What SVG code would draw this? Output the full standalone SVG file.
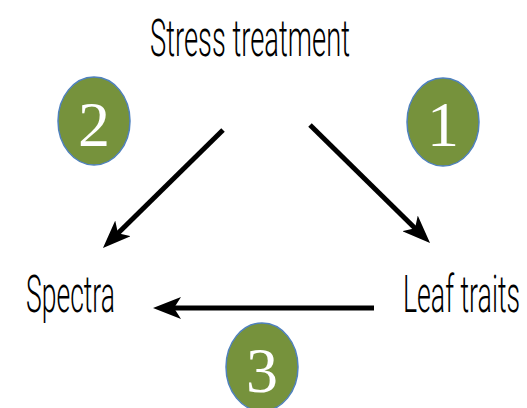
<svg xmlns="http://www.w3.org/2000/svg" width="527" height="408" viewBox="0 0 527 408">
<style>
.lbl{font-family:Roboto,"Liberation Sans",Arial,sans-serif;font-weight:300;font-size:52px;fill:#000;}
.badge ellipse{fill:#76923C;stroke:#4F81BD;stroke-width:1.5;}
.badge text{font-family:"Liberation Serif","Times New Roman",serif;font-size:64px;fill:#fff;text-anchor:middle;}
.conn line{stroke:#000;stroke-width:5;fill:none;}
</style>
<defs>
<marker id="ah" markerUnits="userSpaceOnUse" markerWidth="30" markerHeight="22" viewBox="0 0 30 22" refX="18" refY="11" orient="auto">
<path d="M0,0 L28,11 L0,22 L7,11 Z" fill="#000"/>
</marker>
</defs>
<rect width="527" height="408" fill="#fff"/>
<g id="stress"><text class="lbl" x="150" y="56" textLength="200" lengthAdjust="spacingAndGlyphs">Stress treatment</text></g>
<g id="spectra"><text class="lbl" x="26" y="312" textLength="89" lengthAdjust="spacingAndGlyphs">Spectra</text></g>
<g id="leaf"><text class="lbl" x="403" y="312" textLength="117" lengthAdjust="spacingAndGlyphs">Leaf traits</text></g>
<g id="badge1" class="badge"><ellipse cx="443" cy="122" rx="36" ry="44"/><text x="443" y="146">1</text></g>
<g id="badge2" class="badge"><ellipse cx="94" cy="121" rx="36" ry="44"/><text x="94" y="146">2</text></g>
<g id="badge3" class="badge"><ellipse cx="262" cy="367" rx="36" ry="44"/><text x="262" y="392">3</text></g>
<g id="connectors" class="conn">
<line x1="223" y1="130" x2="110.1" y2="241" marker-end="url(#ah)"/>
<line x1="310" y1="125" x2="422.9" y2="236" marker-end="url(#ah)"/>
<line x1="374" y1="308" x2="163" y2="308" marker-end="url(#ah)"/>
</g>
</svg>
